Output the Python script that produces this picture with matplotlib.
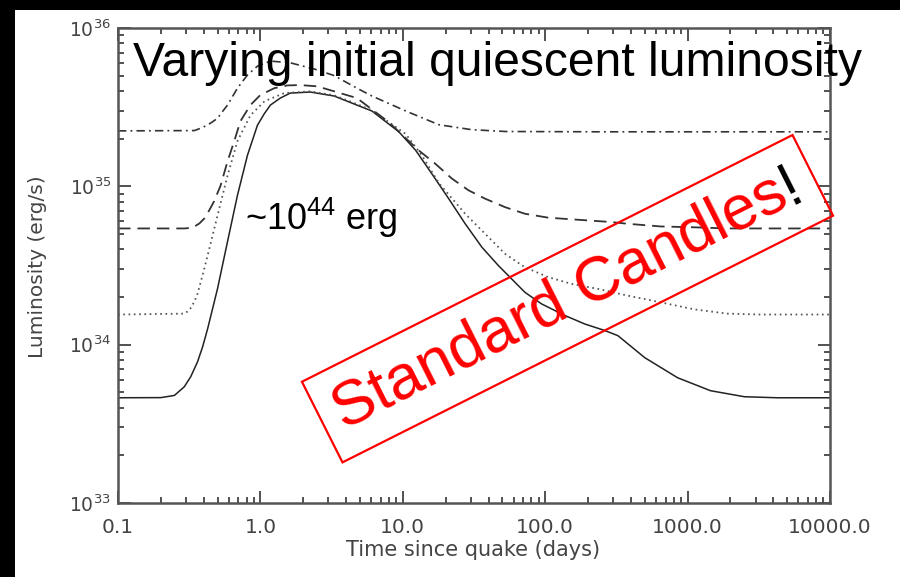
import numpy as np
import matplotlib
matplotlib.use('Agg')
import matplotlib.pyplot as plt
from matplotlib.patches import Rectangle
from matplotlib.ticker import LogLocator, FixedLocator, FixedFormatter, NullFormatter
from matplotlib.transforms import offset_copy
from matplotlib.font_manager import FontProperties

# --- data (time in days, luminosity in erg/s) ---
t_solid = [0.1, 0.2, 0.249, 0.292, 0.324, 0.362, 0.393, 0.426, 0.50, 0.588, 0.69, 0.811, 0.953,
           1.061, 1.175, 1.38, 1.62, 2.24, 3.29, 4.76, 6.07, 9.38, 12.3, 16.0, 21.0, 27.4, 35.9,
           46.9, 55.1, 72.1, 94.2, 137, 190, 261, 324, 500, 851, 1448, 2505, 4260, 10000]
L_solid = [4.62e33, 4.63e33, 4.78e33, 5.42e33, 6.27e33, 7.80e33, 9.70e33, 1.26e34, 2.26e34,
           4.49e34, 8.77e34, 1.57e35, 2.43e35, 2.86e35, 3.26e35, 3.61e35, 3.88e35, 3.94e35,
           3.72e35, 3.26e35, 2.99e35, 2.21e35, 1.69e35, 1.20e35, 8.36e34, 5.81e34, 4.13e34,
           3.16e34, 2.73e34, 2.14e34, 1.81e34, 1.53e34, 1.35e34, 1.23e34, 1.14e34, 8.28e33,
           6.18e33, 5.12e33, 4.69e33, 4.62e33, 4.62e33]

t_dotted = [0.1, 0.292, 0.317, 0.344, 0.362, 0.382, 0.404, 0.426, 0.50, 0.588, 0.69, 0.851,
            1.07, 1.47, 2.24, 3.29, 4.76, 6.07, 10.5, 13.6, 17.9, 27.4, 37.8, 52.2, 72.1, 105,
            153, 235, 380, 647, 1119, 1905, 3240, 10000]
L_dotted = [1.55e34, 1.57e34, 1.65e34, 1.87e34, 2.10e34, 2.51e34, 3.03e34, 3.66e34, 6.55e34,
            1.17e35, 1.93e35, 2.81e35, 3.45e35, 3.88e35, 3.98e35, 3.76e35, 3.31e35, 3.02e35,
            2.14e35, 1.57e35, 1.05e35, 6.71e34, 5.02e34, 3.75e34, 3.08e34, 2.67e34, 2.42e34,
            2.25e34, 2.04e34, 1.85e34, 1.67e34, 1.57e34, 1.55e34, 1.55e34]

t_dashed = [0.1, 0.292, 0.334, 0.373, 0.404, 0.438, 0.473, 0.525, 0.588, 0.655, 0.724, 0.851,
            0.998, 1.253, 1.55, 1.91, 2.51, 4.76, 7.98, 12.9, 16.9, 22.1, 29.0, 37.8, 52.2,
            72.1, 105, 170, 291, 380, 647, 1119, 1905, 10000]
L_dashed = [5.42e34, 5.42e34, 5.48e34, 5.83e34, 6.27e34, 7.08e34, 8.04e34, 1.01e35, 1.44e35,
            1.93e35, 2.58e35, 3.26e35, 3.77e35, 4.17e35, 4.34e35, 4.36e35, 4.28e35, 3.61e35,
            2.54e35, 1.69e35, 1.39e35, 1.12e35, 9.43e34, 8.36e34, 7.39e34, 6.71e34, 6.34e34,
            6.15e34, 5.95e34, 5.80e34, 5.58e34, 5.51e34, 5.42e34, 5.42e34]

t_dashdot = [0.1, 0.344, 0.382, 0.426, 0.462, 0.50, 0.542, 0.588, 0.69, 0.811, 0.953, 1.175,
             1.62, 2.4, 3.29, 4.76, 6.07, 10.5, 17.9, 30.4, 52.5, 235, 10000]
L_dashdot = [2.24e35, 2.25e35, 2.33e35, 2.44e35, 2.56e35, 2.69e35, 2.97e35, 3.26e35, 4.17e35,
             5.05e35, 5.74e35, 6.18e35, 6.03e35, 5.50e35, 5.01e35, 4.17e35, 3.72e35, 2.99e35,
             2.45e35, 2.28e35, 2.22e35, 2.21e35, 2.21e35]

x_ticks = [0.1, 1, 10, 100, 1000, 10000]
x_ticklabels = ['0.1', '1.0', '10.0', '100.0', '1000.0', '10000.0']
y_ticks = [1e33, 1e34, 1e35, 1e36]
y_ticklabels = [r'$\mathregular{10^{33}}$', r'$\mathregular{10^{34}}$',
                r'$\mathregular{10^{35}}$', r'$\mathregular{10^{36}}$']

plt.rcParams['lines.scale_dashes'] = False

fig = plt.figure(figsize=(9, 5.77), dpi=100, facecolor='black')
fig.add_artist(Rectangle((15 / 900, 0), 885 / 900, 567 / 577, transform=fig.transFigure,
                         facecolor='white', edgecolor='none', zorder=-5))

ax = fig.add_axes([118 / 900, 74 / 577, 712 / 900, 475 / 577])
ax.set_xscale('log')
ax.set_yscale('log')

ax.plot(t_solid, L_solid, color='#222222', lw=1.1)
ax.plot(t_dotted, L_dotted, color='#555555', lw=1.3, linestyle=(0, (1.2, 2.6)))
ax.plot(t_dashed, L_dashed, color='#333333', lw=1.3, linestyle=(0, (9, 5)))
ax.plot(t_dashdot, L_dashdot, color='#333333', lw=1.2, linestyle=(0, (6, 3, 1.3, 3)))

ax.set_xlim(0.1, 10000)
ax.set_ylim(1e33, 1e36)

ax.xaxis.set_major_locator(FixedLocator(x_ticks))
ax.xaxis.set_major_formatter(FixedFormatter(x_ticklabels))
ax.xaxis.set_minor_locator(LogLocator(base=10, subs=np.arange(2, 10), numticks=20))
ax.xaxis.set_minor_formatter(NullFormatter())
ax.yaxis.set_major_locator(FixedLocator(y_ticks))
ax.yaxis.set_major_formatter(FixedFormatter(y_ticklabels))
ax.yaxis.set_minor_locator(LogLocator(base=10, subs=np.arange(2, 10), numticks=20))
ax.yaxis.set_minor_formatter(NullFormatter())

ax.tick_params(which='both', direction='in', top=True, right=True, color='#333333', width=1.2)
ax.tick_params(which='major', length=9)
ax.tick_params(which='minor', length=4.5)
ax.tick_params(axis='x', which='major', labelsize=14.5, labelcolor='#444444', pad=11)
ax.tick_params(axis='y', which='major', labelsize=13.5, labelcolor='#444444', pad=5)
for s in ax.spines.values():
    s.set_color('#555555')
    s.set_linewidth(1.8)

ax.set_xlabel('Time since quake (days)', fontsize=15, color='#444444')
ax.xaxis.set_label_coords(0.4986, -0.078)
ax.set_ylabel('Luminosity (erg/s)', fontsize=14.5, color='#444444')
ax.yaxis.set_label_coords(-0.10, 0.498)

ax.text(0.021, 0.899, 'Varying initial quiescent luminosity', transform=ax.transAxes,
        fontsize=34.6, family='Liberation Sans', ha='left', va='baseline', zorder=10)
ax.text(0.178, 0.575, r'~10$^{\mathregular{44}}$ erg', transform=ax.transAxes,
        fontsize=26, family='Liberation Sans', ha='left', va='baseline', zorder=10)

# boxed "Standard Candles!" (red words, black "!")
ang = 26.7
cx, cy = (567.5 - 118) / 712, (503 - 298.7) / 475
fp = FontProperties(family='Liberation Sans', size=45)
renderer = fig.canvas.get_renderer()
w_all = renderer.get_text_width_height_descent('Standard Candles!', fp, ismath=False)[0]
w_red = renderer.get_text_width_height_descent('Standard Candles', fp, ismath=False)[0]
ux, uy = np.cos(np.radians(ang)), np.sin(np.radians(ang))

ax.text(cx, cy, 'Standard Candles!', transform=ax.transAxes, fontproperties=fp,
        color='none', ha='center', va='center', rotation=ang, rotation_mode='anchor',
        bbox=dict(boxstyle='square,pad=0.25', fc='none', ec='red', lw=1.6), zorder=11)
tr_red = offset_copy(ax.transAxes, fig=fig, x=-w_all / 2 * ux, y=-w_all / 2 * uy, units='dots')
ax.text(cx, cy, 'Standard Candles', transform=tr_red, fontproperties=fp, color='red',
        ha='left', va='center', rotation=ang, rotation_mode='anchor', zorder=12)
d = -w_all / 2 + w_red
tr_bang = offset_copy(ax.transAxes, fig=fig, x=d * ux, y=d * uy, units='dots')
ax.text(cx, cy, '!', transform=tr_bang, fontproperties=fp, color='black',
        ha='left', va='center', rotation=ang, rotation_mode='anchor', zorder=12)

fig.savefig('out.png', dpi=100, facecolor=fig.get_facecolor())
